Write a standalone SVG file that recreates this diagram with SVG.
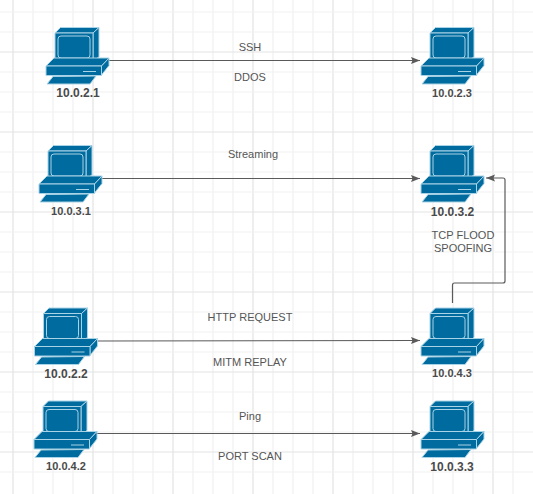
<svg xmlns="http://www.w3.org/2000/svg" width="533" height="494" viewBox="0 0 533 494">
<style>
.g{stroke:#f1f1f1;stroke-width:1.2;fill:none}
.gm{stroke:#e3e3e3;stroke-width:1.2;fill:none}
.c{stroke:#5a5a5a;stroke-width:1.2;fill:none;marker-end:url(#a)}
.b{fill:#006b9e;stroke:#a9d3e6;stroke-width:1;stroke-linejoin:round}
.s{fill:none;stroke:#a9d3e6;stroke-width:1}
.t{font-family:"Liberation Sans",Arial,sans-serif;font-size:11px;fill:#555;text-anchor:middle}
.n{font-family:"Liberation Sans",Arial,sans-serif;font-weight:bold;fill:#4a4a4a;text-anchor:middle}
</style>
<defs>
<marker id="a" markerUnits="userSpaceOnUse" markerWidth="10" markerHeight="8" refX="9" refY="3.500" orient="auto"><path d="M0 0L9 3.500L0 7L1.500 3.500Z" fill="#5a5a5a"/></marker>
<g id="pc">
<path class="b" d="M9 6L14.500 0.500L53 0.500L47 6Z"/>
<path class="b" d="M47 6L53 0.500L53 30L47 34Z"/>
<rect class="b" x="9" y="6" width="38" height="28.500"/>
<rect class="s" x="12" y="9" width="32" height="22" rx="3"/>
<path class="b" d="M0 39L8 31L63 31L55.500 39Z"/>
<path class="b" d="M55.500 39L63 31L63 38.500L55.500 48Z"/>
<rect class="b" x="0" y="39" width="55.500" height="9.500"/>
<path class="s" d="M37 44.500L50 44.500"/>
<path class="b" d="M1 57L7 49.500L50 49L44 57Z"/>
</g>
</defs>
<g id="grid">
<path class="g" d="M33 0V494M53 0V494M73 0V494M113 0V494M133 0V494M153 0V494M193 0V494M213 0V494M233 0V494M273 0V494M293 0V494M313 0V494M353 0V494M373 0V494M393 0V494M433 0V494M453 0V494M473 0V494M513 0V494"/>
<path class="gm" d="M13 0V494M93 0V494M173 0V494M253 0V494M333 0V494M413 0V494M493 0V494"/>
<path class="g" d="M0 12H533M0 32H533M0 72H533M0 92H533M0 112H533M0 152H533M0 172H533M0 192H533M0 232H533M0 252H533M0 272H533M0 312H533M0 332H533M0 352H533M0 392H533M0 412H533M0 432H533M0 472H533"/>
<path class="gm" d="M0 52H533M0 132H533M0 212H533M0 292H533M0 372H533M0 452H533"/>
</g>
<g id="connectors">
<path class="c" d="M109 60.500H420"/>
<path class="c" d="M102 178.500H420"/>
<path class="c" d="M98 341L420 340.500"/>
<path class="c" d="M97 433.500H420"/>
<path class="c" d="M452.500 303V285Q452.500 283 454.500 283H503Q505 283 505 281V180Q505 178 503 178H486"/>
</g>
<g id="labels">
<text class="t" x="250" y="51">SSH</text>
<text class="t" x="250" y="81">DDOS</text>
<text class="t" x="253" y="158">Streaming</text>
<text class="t" x="463" y="239">TCP FLOOD</text>
<text class="t" x="463" y="252">SPOOFING</text>
<text class="t" x="250" y="321">HTTP REQUEST</text>
<text class="t" x="250" y="366">MITM REPLAY</text>
<text class="t" x="250" y="420">Ping</text>
<text class="t" x="250" y="460">PORT SCAN</text>
</g>
<g id="n-10-0-2-1"><use href="#pc" x="46" y="27"/><text class="n" x="78" y="97" font-size="12">10.0.2.1</text></g>
<g id="n-10-0-2-3"><use href="#pc" x="421" y="27"/><text class="n" x="452" y="97" font-size="11">10.0.2.3</text></g>
<g id="n-10-0-3-1"><use href="#pc" x="39" y="145"/><text class="n" x="71" y="215" font-size="11">10.0.3.1</text></g>
<g id="n-10-0-3-2"><use href="#pc" x="421" y="145"/><text class="n" x="452.500" y="216" font-size="12">10.0.3.2</text></g>
<g id="n-10-0-2-2"><use href="#pc" x="34.500" y="307.500"/><text class="n" x="66" y="378" font-size="12">10.0.2.2</text></g>
<g id="n-10-0-4-3"><use href="#pc" x="421" y="307.500"/><text class="n" x="452" y="377" font-size="11">10.0.4.3</text></g>
<g id="n-10-0-4-2"><use href="#pc" x="34" y="400.500"/><text class="n" x="66" y="470" font-size="11">10.0.4.2</text></g>
<g id="n-10-0-3-3"><use href="#pc" x="421" y="400.500"/><text class="n" x="452" y="471" font-size="12">10.0.3.3</text></g>
</svg>
